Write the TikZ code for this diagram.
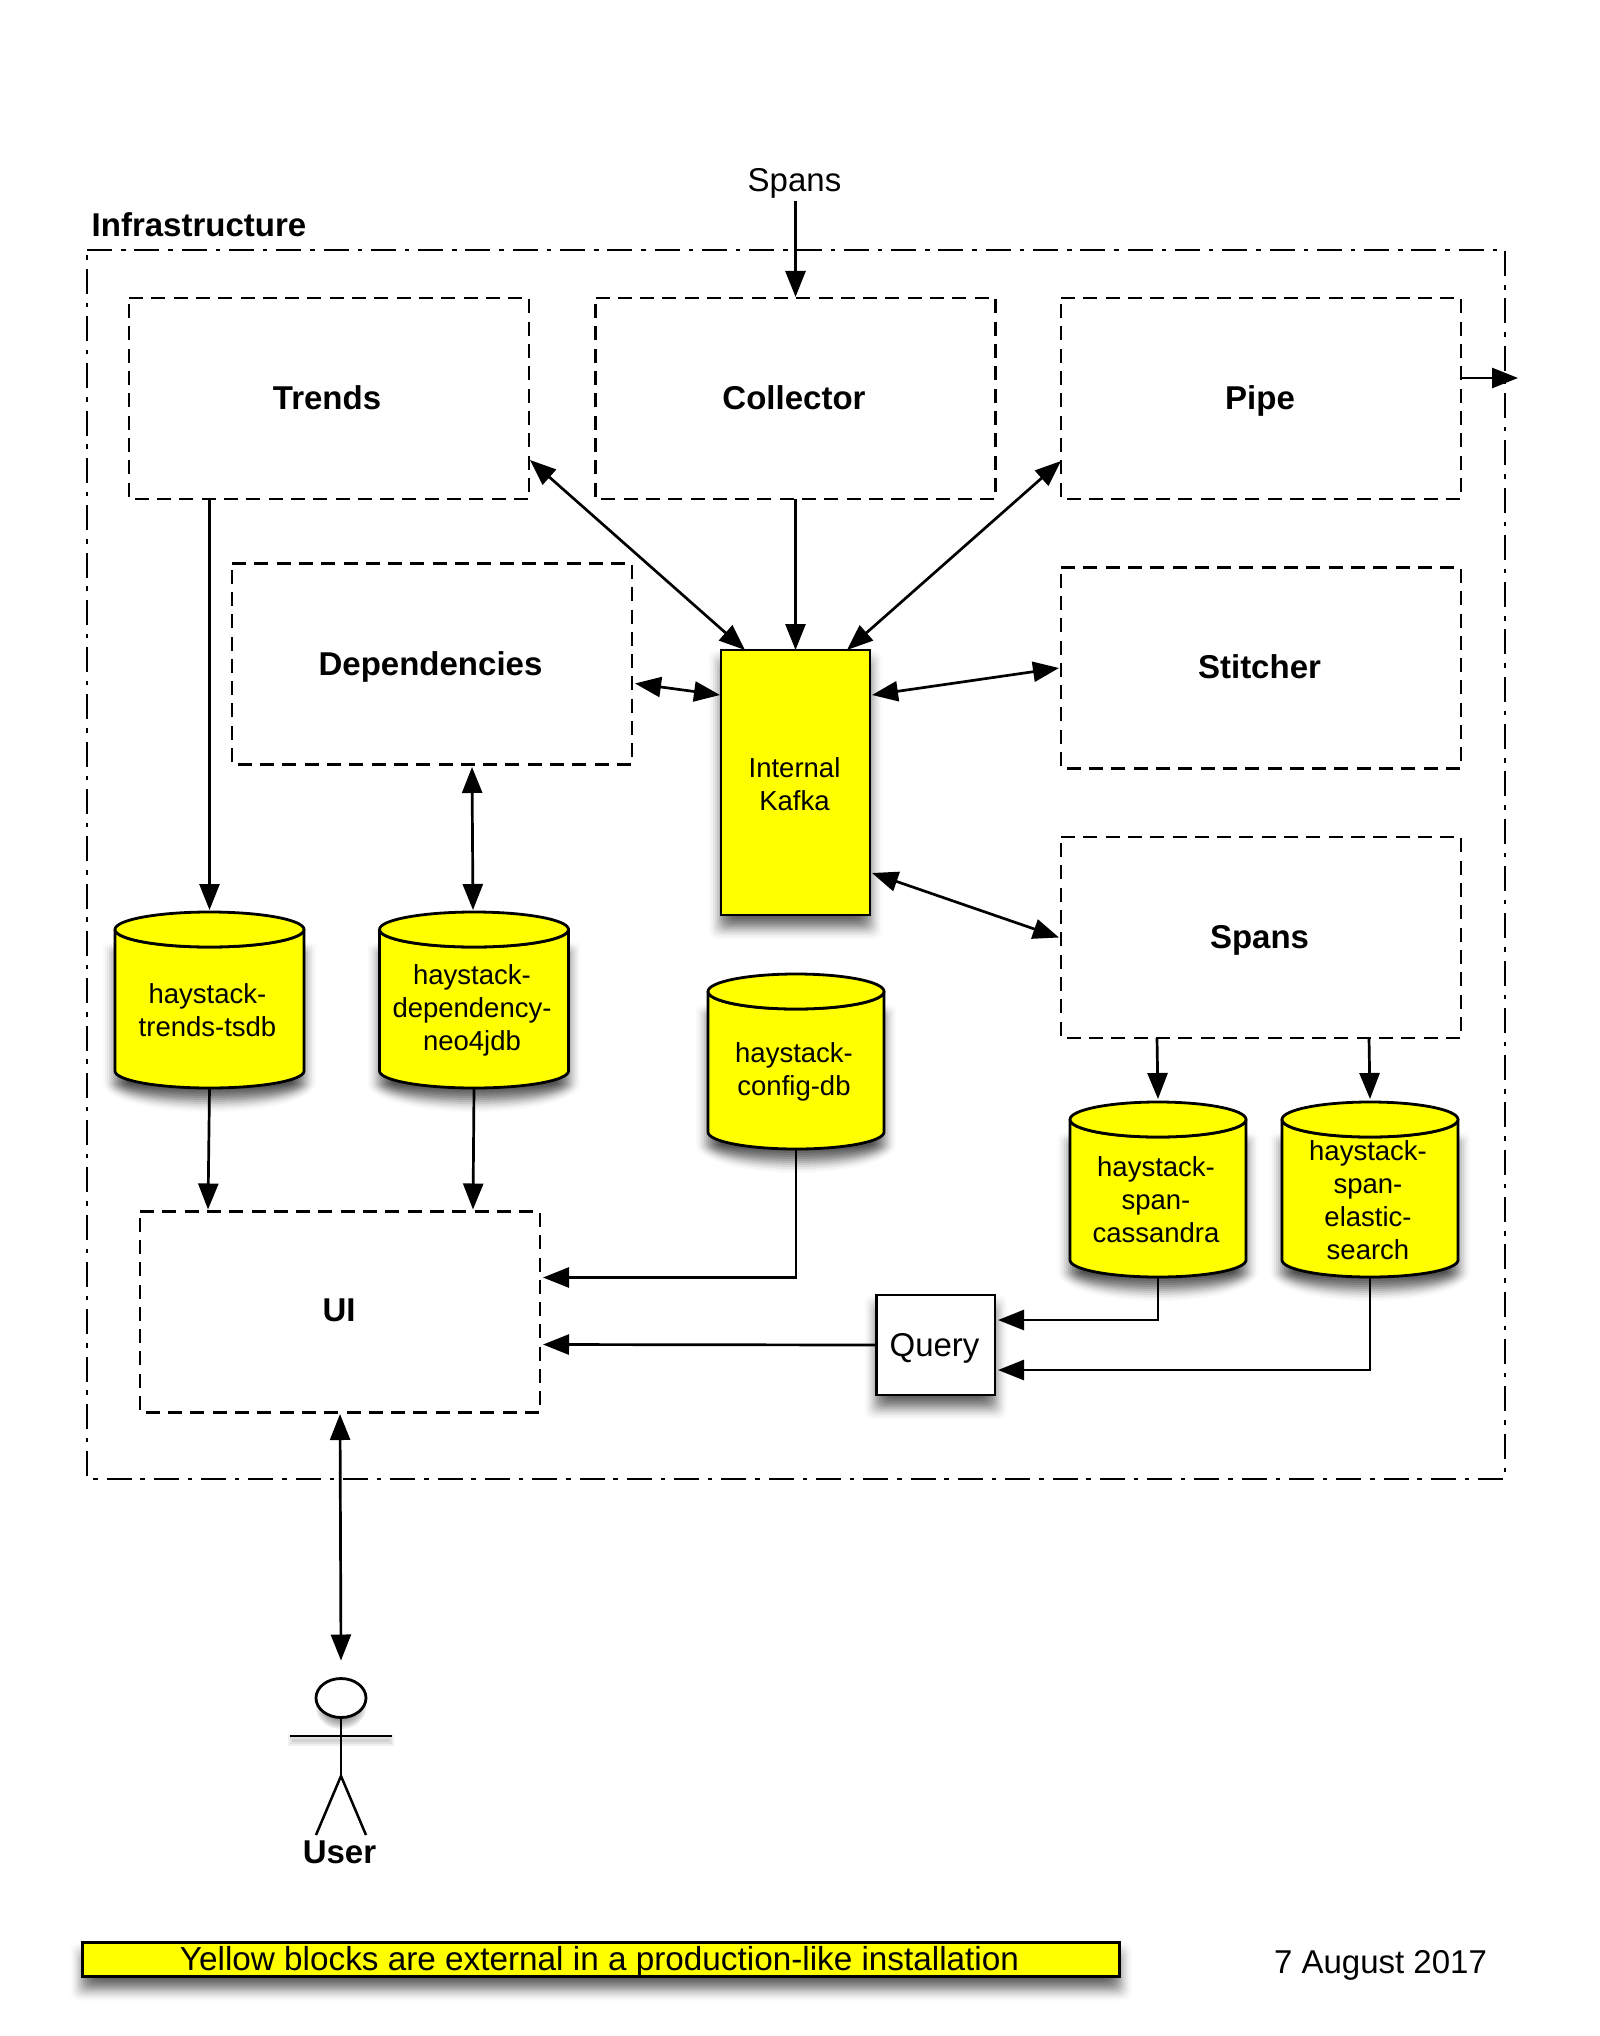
\documentclass[tikz,border=0pt]{standalone}
\usepackage{fontspec}
\setmainfont{Liberation Sans}
\usetikzlibrary{arrows.meta,shapes.geometric}
\definecolor{hsyellow}{RGB}{255,255,0}
\newcommand{\softrect}[4]{%
  \foreach \s/\op in {12/.02,10/.033,8/.047,6/.06,4/.073,2/.087,0/.1,-2/.1,-4/.1,-6/.1,-8/.1,-10/.1,-12/.1}{%
    \fill[black,opacity=\op,rounded corners=8pt] ({#1-\s},{#2+12-\s}) rectangle ({#3+\s},{#4+12+\s});}}
% cylinder: name, centre x, top y, bottom y, half width, text
\newcommand{\dbcyl}[6]{%
  \foreach \s/\op in {12/.02,10/.033,8/.047,6/.06,4/.073,2/.087,0/.1,-2/.1,-4/.1,-6/.1,-8/.1,-10/.1,-12/.1}{%
    \fill[black,opacity=\op] ({#2-#5-\s},{#3+17.5+12}) -- ({#2-#5-\s},{#4-17+12}) arc[start angle=180,end angle=0,x radius={#5+\s},y radius={17+\s}] -- ({#2+#5+\s},{#3+17.5+12}) arc[start angle=0,end angle=180,x radius={#5+\s},y radius={17.5+\s}] -- cycle;}
  \filldraw[cylline] ({#2-#5},{#3+17.5}) -- ({#2-#5},{#4-17}) arc[start angle=180,end angle=0,x radius=#5,y radius=17] -- ({#2+#5},{#3+17.5}) arc[start angle=0,end angle=180,x radius=#5,y radius=17.5] -- cycle;
  \draw[cylline] ({#2},{#3+17.5}) ellipse[x radius=#5,y radius=17.5];
  \node[minimum width={2*#5},minimum height={#4-#3},inner sep=0pt,outer sep=0pt] (#1) at ({#2},{(#3+#4)/2}) {};
  \node[dbtext] (#1text) at ({#2-2},{(#3+20+#4)/2+0.5}) {#6};}
\tikzset{
  labelb/.style={font=\fontsize{33}{38}\selectfont\bfseries,inner sep=0pt},
  labeln/.style={font=\fontsize{33}{38}\selectfont,inner sep=0pt},
  dbtext/.style={font=\fontsize{27.5}{33}\selectfont,align=center,inner sep=0pt,outer sep=0pt},
  cylline/.style={draw=black,fill=hsyellow,line width=2.8pt,line join=round},
  svcbox/.style={minimum width=400pt,minimum height=201pt,inner sep=0pt,outer sep=0pt},
  svcdash/.style={draw=black,line width=2.8pt,dash pattern=on 14pt off 8.3pt},
  infradash/.style={draw=black,line width=2.8pt,dash pattern=on 25pt off 9pt on 4.5pt off 8.8pt},
  solidbox/.style={draw=black,line width=2.8pt,inner sep=0pt,outer sep=0pt},
  arr/.style={draw=black,line width=2.7pt,-{Triangle[length=26pt,width=20pt]}},
  arrtwo/.style={draw=black,line width=2.7pt,{Triangle[length=26pt,width=20pt]}-{Triangle[length=26pt,width=20pt]}},
  limb/.style={draw=black,line width=2.5pt}
}
\begin{document}
\begin{tikzpicture}[x=1pt,y=-1pt]
\useasboundingbox (0,0) rectangle (1599,2036);
\fill[white] (0,0) rectangle (1599,2036);
% frame and labels
\node[minimum width=1418pt,minimum height=1229pt,inner sep=0pt,outer sep=0pt] (infra) at (796,864.5) {};
\draw[infradash] (infra.north west) -- (infra.north east) -- (infra.south east) -- (infra.south west) -- cycle;
\node[labelb,anchor=west] (infralbl) at (91.5,225) {Infrastructure};
\node[labeln] (spanslbl) at (794.5,183.5) {Spans};
% services
\node[svcbox] (trends) at (329,398.5) {};
\node[labelb] (trendslbl) at (327,398) {Trends};
\node[svcbox] (collector) at (795.5,398.5) {};
\node[labelb] (collectorlbl) at (794,398) {Collector};
\node[svcbox] (pipe) at (1261,398.5) {};
\node[labelb] (pipelbl) at (1260,401) {Pipe};
\node[svcbox] (dep) at (432,664) {};
\node[labelb] (deplbl) at (430.5,667) {Dependencies};
\node[svcbox] (stitcher) at (1261,668) {};
\node[labelb] (stitcherlbl) at (1259.5,667) {Stitcher};
\node[svcbox] (spansb) at (1261,937.5) {};
\node[labelb] (spansblbl) at (1259.5,940) {Spans};
\node[svcbox] (ui) at (340,1312) {};
\node[labelb] (uilbl) at (339,1310) {UI};
\foreach \b in {trends,collector,pipe,dep,stitcher,spansb,ui}{
  \draw[svcdash] (\b.north west) -- (\b.north east) -- (\b.south east) -- (\b.south west) -- cycle;}
% Kafka
\softrect{721}{650}{870}{915}
\node[solidbox,fill=hsyellow,minimum width=149pt,minimum height=265pt] (kafka) at (795.5,782.5) {};
\node[dbtext] (kafkalbl) at (794.5,784) {Internal\\Kafka};
% Databases
\dbcyl{tdb}{209.5}{912}{1088}{94.5}{haystack-\\trends-tsdb}
\dbcyl{neo}{474}{912}{1088}{94.5}{haystack-\\dependency-\\neo4jdb}
\dbcyl{cfg}{796}{974}{1149}{88}{haystack-\\config-db}
\dbcyl{cass}{1158}{1102}{1277}{88}{haystack-\\span-\\cassandra}
\dbcyl{elastic}{1370}{1102}{1277}{88}{haystack-\\span-\\elastic-\\search}
% Query
\softrect{876.5}{1295}{995}{1395}
\node[solidbox,fill=white,minimum width=118.5pt,minimum height=100pt] (query) at (935.75,1345) {};
\node[labeln] (querylbl) at (934.5,1348) {Query};
% User
\foreach \s in {10,8,...,-10}{\fill[black,opacity=.085] (341,1707) ellipse[x radius={15+\s},y radius={12+\s}];}
\foreach \s in {4,2,0}{\fill[black,opacity=.06] ({292-\s},{1739-\s}) rectangle ({390+\s},{1742+\s});}
\node[draw=black,fill=white,line width=2.8pt,ellipse,minimum width=50pt,minimum height=39pt,inner sep=0pt,outer sep=0pt] (head) at (341,1698) {};
\coordinate (armL) at (290,1736);
\coordinate (armR) at (392,1736);
\coordinate (hip) at (341,1776);
\coordinate (legL) at (316,1835);
\coordinate (legR) at (366,1835);
\draw[limb] (head.south) -- (hip);
\draw[limb,line width=2.8pt] (armL) -- (armR);
\draw[limb] (legL) -- (hip) -- (legR);
\node[labelb] (userlbl) at (339.5,1852) {User};
% Legend
\softrect{82.7}{1942.7}{1119.6}{1976.7}
\node[solidbox,fill=hsyellow,minimum width=1037pt,minimum height=34pt] (legend) at (601.1,1959.7) {};
\node[inner sep=0pt,font=\fontsize{33.3}{38}\selectfont] (legendlbl) at (599.5,1962) {Yellow blocks are external in a production-like installation};
\node[labeln] (datelbl) at (1380.5,1965) {7 August 2017};
% Connectors
\draw[arr] (spanslbl.south -| collector.north) ++(0,2) -- ([shift={(0,-1)}]collector.north);
\draw[arrtwo] ([shift={(1,-39)}]trends.south east) -- ([shift={(24,0)}]kafka.north west);
\draw[arr] (collector.south) -- (collector.south |- kafka.north);
\draw[arrtwo] ([shift={(0,-38)}]pipe.south west) -- ([shift={(-23,0)}]kafka.north east);
\draw[arrtwo] ([shift={(3,120)}]dep.north east) -- ([shift={(-1,45)}]kafka.north west);
\draw[arrtwo] ([shift={(40,2.5)}]dep.south) -- ([shift={(-1,-2)}]neo.north);
\draw[arr] ([shift={(80.5,0)}]trends.south west) -- ([shift={(0,-2)}]tdb.north);
\draw[arrtwo] ([shift={(2,45)}]kafka.north east) -- ([shift={(-2,0)}]stitcher.west);
\draw[arrtwo] ([shift={(2,-42)}]kafka.south east) -- ([shift={(-2,0)}]spansb.west);
\draw[arr] ([shift={(96,0)}]spansb.south west) -- ([shift={(0,-3)}]cass.north);
\draw[arr] ([shift={(308,0)}]spansb.south west) -- ([shift={(0,-3)}]elastic.north);
\draw[arr] (tdb.south) -- ([shift={(68,-2)}]ui.north west);
\draw[arr] (neo.south) -- ([shift={(333,-2)}]ui.north west);
\draw[arr] (cfg.south) |- ([shift={(3,66)}]ui.north east);
\draw[arr] (query.west) -- ([shift={(3,133)}]ui.north east);
\draw[arr] (cass.south) |- ([shift={(3,25)}]query.north east);
\draw[arr] (elastic.south) |- ([shift={(3,75)}]query.north east);
\draw[arrtwo] ([shift={(0,1.5)}]ui.south) -- ([shift={(0,-18)}]head.north);
\coordinate (pipeout) at (1518,378);
\draw[arr] ([shift={(0,80)}]pipe.north east) -- (pipeout);
\end{tikzpicture}
\end{document}
